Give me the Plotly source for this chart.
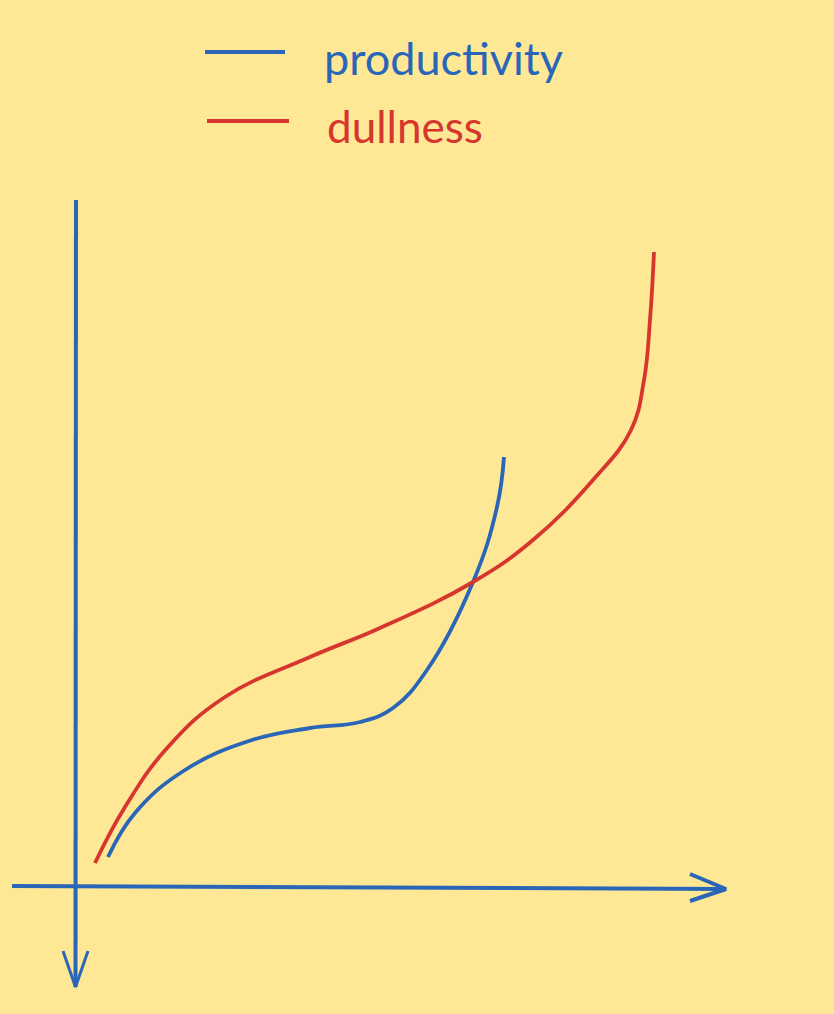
import plotly.graph_objects as go

# ---- data ----
series_names = ["productivity", "dullness"]
x_prod = [0.32, 0.59, 1.09, 1.76, 2.34, 2.84, 3.17, 3.51, 3.97, 4.21, 4.28]
y_prod = [0.30, 0.74, 1.17, 1.47, 1.59, 1.65, 1.79, 2.17, 3.05, 3.80, 4.30]
x_dull = [0.19, 0.49, 0.92, 1.49, 2.34, 3.04, 3.97, 4.57, 5.17, 5.55, 5.68, 5.74, 5.78]
y_dull = [0.24, 0.80, 1.40, 1.90, 2.30, 2.59, 3.05, 3.47, 4.07, 4.57, 5.07, 5.67, 6.35]

# ---- style ----
BG = "#fee895"
BLUE = "#2a66b8"
RED = "#d7362f"
FONT = "Lato"

fig = go.Figure()

fig.add_trace(go.Scatter(x=x_prod, y=y_prod, name=series_names[0], mode="lines",
                         line=dict(color=BLUE, width=3.8, shape="spline", smoothing=1.2),
                         hoverinfo="skip", showlegend=False))
fig.add_trace(go.Scatter(x=x_dull, y=y_dull, name=series_names[1], mode="lines",
                         line=dict(color=RED, width=3.8, shape="spline", smoothing=1.2),
                         hoverinfo="skip", showlegend=False))

# hand-drawn style axes with open arrowheads
axis_style = dict(color=BLUE, width=4)
fig.add_trace(go.Scatter(x=[-0.64, 6.50], y=[0.01, -0.02], mode="lines", line=axis_style,
                         hoverinfo="skip", showlegend=False))
fig.add_trace(go.Scatter(x=[6.14, 6.50, 6.14], y=[0.13, -0.02, -0.14], mode="lines", line=axis_style,
                         hoverinfo="skip", showlegend=False))
fig.add_trace(go.Scatter(x=[0.0, -0.005], y=[6.87, -1.00], mode="lines", line=axis_style,
                         hoverinfo="skip", showlegend=False))
fig.add_trace(go.Scatter(x=[-0.13, -0.005, 0.12], y=[-0.64, -1.00, -0.64], mode="lines",
                         line=dict(color=BLUE, width=3), hoverinfo="skip", showlegend=False))

# custom legend
legend_rows = [
    (series_names[0], BLUE, 1.29, 2.09, 8.35, 2.46, 8.29, 45),
    (series_names[1], RED, 1.31, 2.13, 7.66, 2.49, 7.61, 44),
]
for name, col, lx0, lx1, ly, tx, ty, fs in legend_rows:
    fig.add_trace(go.Scatter(x=[lx0, lx1], y=[ly, ly], mode="lines",
                             line=dict(color=col, width=4), hoverinfo="skip", showlegend=False))
    fig.add_annotation(x=tx, y=ty, text=name, showarrow=False, xanchor="left", yanchor="middle",
                       font=dict(family=FONT, size=fs, color=col))

fig.update_layout(
    width=834, height=1014,
    margin=dict(l=0, r=0, t=0, b=0),
    paper_bgcolor=BG, plot_bgcolor=BG,
    xaxis=dict(range=[-0.76, 7.58], visible=False, fixedrange=True),
    yaxis=dict(range=[-1.27, 8.87], visible=False, fixedrange=True),
    showlegend=False,
)

fig.write_html("out.html", config={"displayModeBar": False},
               post_script="document.body.style.margin='0';document.body.style.overflow='hidden';document.body.style.background='%s';" % BG)
